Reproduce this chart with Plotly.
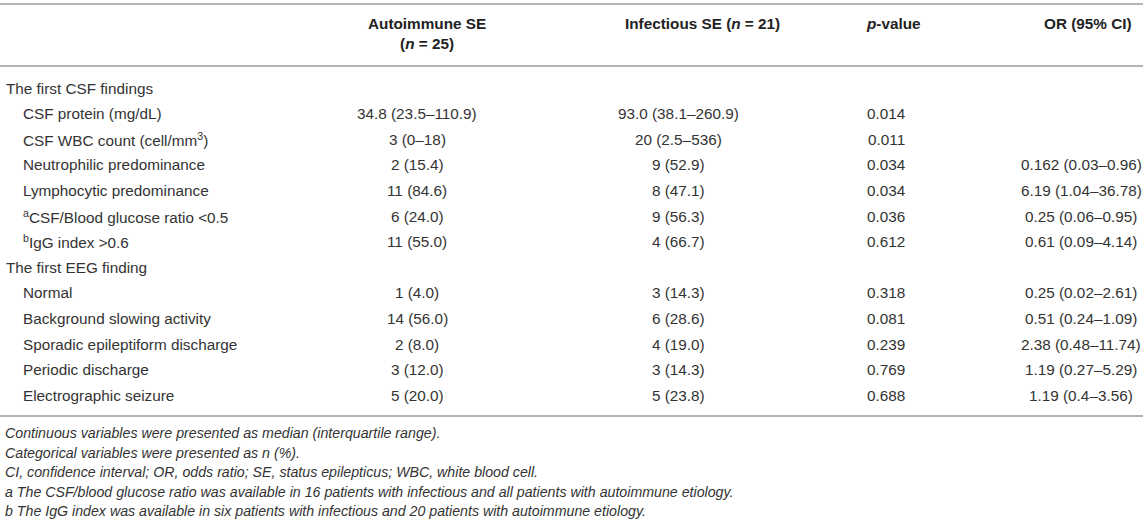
import plotly.graph_objects as go

# ---------------------------------------------------------
# table content
# ---------------------------------------------------------
HEADERS = ["Autoimmune SE<br>(<i>n</i> = 25)", "Infectious SE (<i>n</i> = 21)", "<i>p</i>-value", "OR (95% CI)"]

ROW_LABELS = [
    "The first CSF findings",
    "CSF protein (mg/dL)",
    "CSF WBC count (cell/mm<sup>3</sup>)",
    "Neutrophilic predominance",
    "Lymphocytic predominance",
    "<sup>a</sup>CSF/Blood glucose ratio <0.5",
    "<sup>b</sup>IgG index >0.6",
    "The first EEG finding",
    "Normal",
    "Background slowing activity",
    "Sporadic epileptiform discharge",
    "Periodic discharge",
    "Electrographic seizure",
]
IS_SECTION = [True, False, False, False, False, False, False, True, False, False, False, False, False]

AUTOIMMUNE = ["", "34.8 (23.5–110.9)", "3 (0–18)", "2 (15.4)", "11 (84.6)", "6 (24.0)", "11 (55.0)",
              "", "1 (4.0)", "14 (56.0)", "2 (8.0)", "3 (12.0)", "5 (20.0)"]
INFECTIOUS = ["", "93.0 (38.1–260.9)", "20 (2.5–536)", "9 (52.9)", "8 (47.1)", "9 (56.3)", "4 (66.7)",
              "", "3 (14.3)", "6 (28.6)", "4 (19.0)", "3 (14.3)", "5 (23.8)"]
P_VALUES = ["", "0.014", "0.011", "0.034", "0.034", "0.036", "0.612",
            "", "0.318", "0.081", "0.239", "0.769", "0.688"]
ODDS = ["", "", "", "0.162 (0.03–0.96)", "6.19 (1.04–36.78)", "0.25 (0.06–0.95)", "0.61 (0.09–4.14)",
        "", "0.25 (0.02–2.61)", "0.51 (0.24–1.09)", "2.38 (0.48–11.74)", "1.19 (0.27–5.29)", "1.19 (0.4–3.56)"]

FOOTNOTES = [
    "Continuous variables were presented as median (interquartile range).",
    "Categorical variables were presented as n (%).",
    "CI, confidence interval; OR, odds ratio; SE, status epilepticus; WBC, white blood cell.",
    "a The CSF/blood glucose ratio was available in 16 patients with infectious and all patients with autoimmune etiology.",
    "b The IgG index was available in six patients with infectious and 20 patients with autoimmune etiology.",
]

# ---------------------------------------------------------
# layout settings (pixels)
# ---------------------------------------------------------
W, H = 1146, 524
FONT = "Liberation Sans, Arial, Helvetica, sans-serif"
TXT = "#333333"
HEAD_TXT = "#222222"
RULE = "#b3b3b3"
FS = 15.3
FS_NOTE = 14.2

ROW0, ROW_STEP = 88, 25.6
row_y = [ROW0 + i * ROW_STEP for i in range(len(ROW_LABELS))]
COL_X = [417, 678, 886, 1081]
HEAD_X = [427, 702, 893, 1088]

fig = go.Figure()


def cell(x, y, text, anchor="center", size=FS, color=TXT):
    fig.add_annotation(x=x, y=y, text=text, showarrow=False,
                       xanchor=anchor, yanchor="middle",
                       font=dict(family=FONT, size=size, color=color))


# row labels: sections flush left, items indented
for y, label, section in zip(row_y, ROW_LABELS, IS_SECTION):
    cell(4 if section else 21, y, label, anchor="left")

# value columns (blank cells skipped)
for cx, vals in zip(COL_X, [AUTOIMMUNE, INFECTIOUS, P_VALUES, ODDS]):
    for y, v in zip(row_y, vals):
        if v:
            cell(cx, y, v)

# headers
for hx, h in zip(HEAD_X, HEADERS):
    fig.add_annotation(x=hx, y=13, text="<b>" + h + "</b>", showarrow=False,
                       xanchor="center", yanchor="top", align="center",
                       font=dict(family=FONT, size=FS, color=HEAD_TXT))

# footnotes
for i, note in enumerate(FOOTNOTES):
    cell(3, 433 + i * 19.5, "<i>" + note + "</i>", anchor="left", size=FS_NOTE)

# horizontal rules
for ry in [4, 66, 416]:
    fig.add_shape(type="line", x0=0, x1=1143, y0=ry, y1=ry, line=dict(color=RULE, width=2))

# invisible trace so the axes are laid out
fig.add_trace(go.Scatter(x=[0, W], y=[0, H], mode="markers", marker=dict(opacity=0),
                         hoverinfo="skip", showlegend=False))

fig.update_layout(
    width=W, height=H,
    margin=dict(l=0, r=0, t=0, b=0),
    paper_bgcolor="white", plot_bgcolor="white",
    xaxis=dict(range=[0, W], visible=False, fixedrange=True),
    yaxis=dict(range=[H, 0], visible=False, fixedrange=True),
)

fig.write_html("out.html", config={"displayModeBar": False},
               post_script="document.body.style.margin='0px';")
